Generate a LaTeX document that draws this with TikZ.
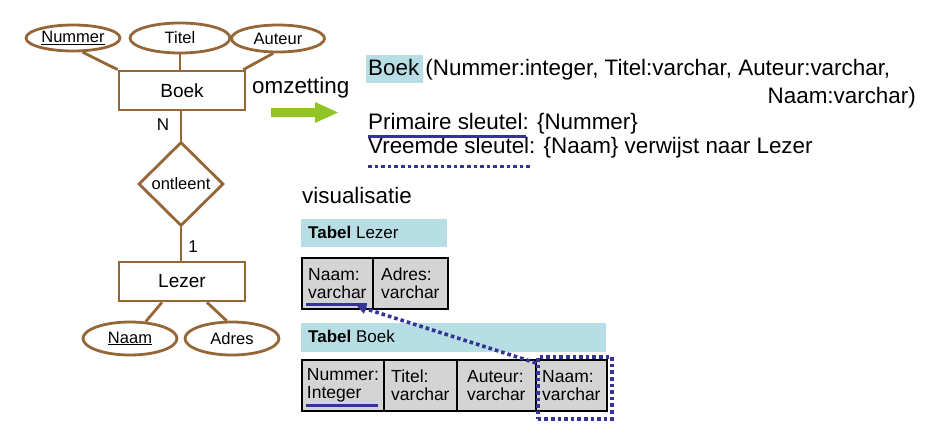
\documentclass[tikz,border=0pt]{standalone}
\usepackage{fontspec}
\setmainfont{Liberation Sans}
\usetikzlibrary{shapes.geometric,arrows.meta}
\definecolor{erbrown}{RGB}{148,102,56}
\definecolor{hlblue}{RGB}{183,222,228}
\definecolor{cellgray}{RGB}{212,212,212}
\definecolor{keyblue}{RGB}{52,52,150}
\definecolor{arrowgreen}{RGB}{146,196,38}
\newcommand{\lbr}{{\char"7B}}
\newcommand{\rbr}{{\char"7D}}
\tikzset{
  erline/.style={draw=erbrown, line width=2.8pt},
  entity/.style={erline, rectangle, fill=white, inner sep=0pt, font=\fontsize{19}{22}\selectfont},
  attr/.style={erline, ellipse, fill=white, inner sep=0pt, font=\fontsize{16.5}{19}\selectfont},
  rel/.style={erline, diamond, fill=white, inner sep=0pt, font=\fontsize{16.5}{19}\selectfont},
  card/.style={inner sep=0pt, font=\fontsize{17}{19}\selectfont},
  bigtext/.style={inner sep=0pt, font=\fontsize{22.4}{26}\selectfont},
  hdr/.style={fill=hlblue, inner sep=0pt},
  hdrtext/.style={inner sep=0pt, anchor=base west, font=\fontsize{17}{19}\selectfont},
  cell/.style={draw=black, line width=1.8pt, fill=cellgray, inner sep=0pt, align=left, anchor=north west, minimum height=51pt, font=\fontsize{17.5}{18.5}\selectfont},
  keyline/.style={draw=keyblue, line width=3pt},
  fkdots/.style={draw=keyblue, line width=3.6pt, dash pattern=on 3.6pt off 3pt},
}
\begin{document}
\begin{tikzpicture}[x=1pt,y=-1pt]
\useasboundingbox (0,0) rectangle (951,437);
% ---------- ER diagram ----------
\node[entity, minimum width=126pt, minimum height=39pt] (boek) at (182,90.5) {Boek};
\node[attr, minimum width=94pt, minimum height=26pt] (nummer) at (73,38) {\underline{Nummer}};
\node[attr, minimum width=100pt, minimum height=30pt] (titel) at (180,38) {Titel};
\node[attr, minimum width=93pt, minimum height=27pt] (auteur) at (278,38.5) {Auteur};
\draw[erline] (nummer.-56) -- (boek.north west);
\draw[erline] (titel.south) -- (titel.south |- boek.north);
\draw[erline] (auteur.-108) -- ([xshift=-3pt]boek.north east);
\node[rel, minimum width=85pt, minimum height=84pt] (ontleent) at (181,184) {ontleent};
\draw[erline] (ontleent.north) -- (ontleent.north |- boek.south);
\node[entity, minimum width=126pt, minimum height=39pt] (lezer) at (182,281.5) {Lezer};
\draw[erline] (ontleent.south) -- (ontleent.south |- lezer.north);
\node[card] (cardN) at (163,125) {N};
\node[card] (card1) at (193,247) {1};
\node[attr, minimum width=94pt, minimum height=33pt] (naam) at (130,338.5) {\underline{Naam}};
\node[attr, minimum width=94pt, minimum height=33pt] (adres) at (232,338.5) {Adres};
\draw[erline] ([xshift=-20pt]lezer.south) -- (naam.47);
\draw[erline] ([xshift=25pt]lezer.south) -- (adres.107);
% ---------- conversion arrow ----------
\node[bigtext, anchor=base west] (omz) at (252,93) {omzetting};
\fill[arrowgreen] (271,108) -- (315,108) -- (315,102) -- (338,112.5) -- (315,123) -- (315,117) -- (271,117) -- cycle;
% ---------- relational schema ----------
\node[hdr, minimum width=57pt, minimum height=28pt, anchor=north west] (boekhl) at (366,55) {};
\node[bigtext, anchor=base west] (line1) at (368,75) {Boek (Nummer:integer, Titel:varchar, Auteur:varchar,};
\node[bigtext, anchor=base east] (line2) at (916,103) {Naam:varchar)};
\node[bigtext, anchor=base west] (line3) at (368,129) {Primaire sleutel: \lbr Nummer\rbr};
\node[bigtext, anchor=base west] (line4) at (368,153) {Vreemde sleutel: \lbr Naam\rbr\ verwijst naar Lezer};
\coordinate (pkA) at (368,136);
\coordinate (pkB) at (526,136);
\draw[keyline] (pkA) -- (pkB);
\coordinate (fkA) at (368,166.5);
\coordinate (fkB) at (532,166.5);
\draw[fkdots] (fkA) -- (fkB);
\node[bigtext, anchor=base west] (vis) at (302,203) {visualisatie};
% ---------- table Lezer ----------
\node[hdr, minimum width=146pt, minimum height=28pt, anchor=north west] (hdrL) at (301,219) {};
\node[hdrtext] (hdrLt) at (308,238) {\textbf{Tabel} Lezer};
\node[cell, minimum width=71pt] (lnaam) at (301,257) {Naam:\\varchar};
\node[cell, minimum width=75pt] (ladres) at (372,257) {Adres:\\varchar};
\coordinate (lkA) at (306,304);
\coordinate (lkB) at (367,304);
\draw[keyline] (lkA) -- (lkB);
% ---------- table Boek ----------
\node[hdr, minimum width=305pt, minimum height=29pt, anchor=north west] (hdrB) at (301,323) {};
\node[hdrtext] (hdrBt) at (308,342) {\textbf{Tabel} Boek};
\node[cell, minimum width=82pt] (bnummer) at (301,359) {Nummer:\\Integer};
\node[cell, minimum width=73pt] (btitel) at (383,359) {Titel:\\varchar};
\node[cell, minimum width=79pt] (bauteur) at (456,359) {Auteur:\\varchar};
\node[cell, minimum width=71pt] (bnaam) at (535,359) {Naam:\\varchar};
\coordinate (bkA) at (306,405);
\coordinate (bkB) at (378,405);
\draw[keyline] (bkA) -- (bkB);
% ---------- foreign key ----------
\node[fkdots, fill=none, inner sep=0pt, minimum width=74pt, minimum height=62pt, anchor=north west] (fk) at (536,355) {};
\coordinate (fktip) at (357,306);
\draw[fkdots, -{Triangle[length=9pt,width=10pt]}] ([yshift=-8pt]fk.north west) -- (fktip);
\end{tikzpicture}
\end{document}
